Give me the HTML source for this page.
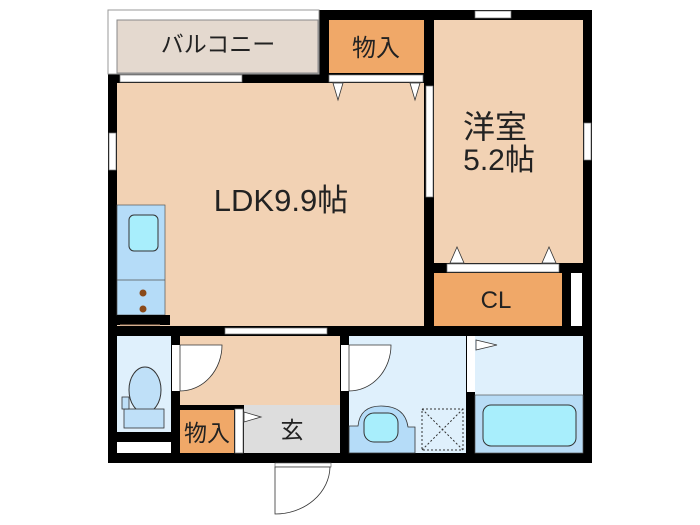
<!DOCTYPE html>
<html><head><meta charset="utf-8"><style>
html,body{margin:0;padding:0;background:#fff;width:700px;height:525px;overflow:hidden}
text{font-family:"Liberation Sans","Noto Sans CJK JP",sans-serif;fill:#222}
</style></head><body>
<svg width="700" height="525" viewBox="0 0 700 525" xmlns="http://www.w3.org/2000/svg">
<rect x="108" y="10" width="484" height="453" fill="#000"/>
<rect x="108" y="10" width="211" height="64" fill="#fff" stroke="#999" stroke-width="1"/>
<rect x="117" y="20" width="201" height="53" fill="#e4d9cf" stroke="#888" stroke-width="1"/>
<rect x="329" y="20" width="95" height="53" fill="#f0a868"/>
<rect x="329" y="75" width="94" height="7" fill="#fff" stroke="#777" stroke-width="0.7"/>
<rect x="120" y="75" width="122" height="7" fill="#fff" stroke="#777" stroke-width="0.7"/>
<rect x="117" y="83" width="307" height="243" fill="#f2d2b4"/>
<rect x="117" y="205" width="48" height="110" fill="#b5dcf8" stroke="#555" stroke-width="0.7"/>
<line x1="117" y1="280" x2="165" y2="280" stroke="#555" stroke-width="0.7"/>
<rect x="129" y="215" width="29" height="36" rx="5" fill="#a8eefc" stroke="#333" stroke-width="1"/>
<circle cx="143" cy="293" r="3.5" fill="#8a4a1a"/><circle cx="143" cy="309" r="3.5" fill="#8a4a1a"/>
<rect x="117" y="315" width="53" height="10" fill="#000"/>
<line x1="120" y1="325" x2="160" y2="325" stroke="#b58a6a"/>
<rect x="109" y="133" width="7" height="37" fill="#fff" stroke="#777" stroke-width="0.7"/>
<rect x="434" y="20" width="149" height="243" fill="#f2d2b4"/>
<rect x="475" y="11" width="36" height="7" fill="#fff" stroke="#777" stroke-width="0.7"/>
<rect x="584" y="123" width="7" height="37" fill="#fff" stroke="#777" stroke-width="0.7"/>
<rect x="426" y="86" width="7" height="111" fill="#fff" stroke="#777" stroke-width="0.7"/>
<rect x="447" y="264" width="112" height="8" fill="#fff" stroke="#777" stroke-width="0.7"/>
<polygon points="333,83 343,83 338,100" fill="#fff" stroke="#333" stroke-width="0.8"/>
<polygon points="410,83 420,83 415,100" fill="#fff" stroke="#333" stroke-width="0.8"/>
<polygon points="450,263 464,263 457,247" fill="#fff" stroke="#333" stroke-width="0.8"/>
<polygon points="542,263 556,263 549,247" fill="#fff" stroke="#333" stroke-width="0.8"/>
<rect x="434" y="273" width="128" height="53" fill="#f0a868"/>
<rect x="571" y="273" width="11" height="53" fill="#fff"/>
<rect x="225" y="328" width="102" height="6" fill="#fff" stroke="#777" stroke-width="0.7"/>
<rect x="117" y="336" width="54" height="96" fill="#dff0fc"/>
<ellipse cx="145" cy="390" rx="16" ry="23" fill="#bfe0f8" stroke="#333"/>
<rect x="124" y="409" width="40" height="19" fill="#bfe0f8" stroke="#333" stroke-width="0.8"/>
<rect x="122" y="397" width="7" height="12" fill="#bfe0f8" stroke="#333" stroke-width="0.8"/>
<rect x="117" y="442" width="54" height="11" fill="#fff"/>
<rect x="180" y="336" width="160" height="69" fill="#f2d2b4"/>
<rect x="180" y="410" width="54" height="43" fill="#f0a868"/>
<rect x="244" y="405" width="96" height="48" fill="#ddd"/>
<rect x="235" y="409" width="8" height="44" fill="#fff" stroke="#777" stroke-width="0.7"/>
<polygon points="244,412 244,422 261,417" fill="#fff" stroke="#333" stroke-width="0.8"/>
<rect x="172" y="345" width="8" height="46" fill="#fff"/>
<path d="M180 345 L222 345 A42 46 0 0 1 180 391 Z" fill="#fff" stroke="#333" stroke-width="0.8"/>
<rect x="349" y="336" width="117" height="117" fill="#dff0fc"/>
<rect x="341" y="345" width="8" height="46" fill="#fff"/>
<path d="M349 345 L391 345 A42 46 0 0 1 349 391 Z" fill="#fff" stroke="#333" stroke-width="0.8"/>
<path d="M349 426 L349 453 L415 453 L415 427 L408 427 Q405 406 381 406 Q360 406 358 426 Z" fill="#b5dcf8" stroke="#333" stroke-width="0.8"/>
<rect x="364" y="413" width="34" height="29" rx="10" fill="#a8eefc" stroke="#333"/>
<rect x="422" y="409" width="41" height="41" fill="none" stroke="#333" stroke-dasharray="2,2"/>
<line x1="422" y1="409" x2="463" y2="450" stroke="#333" stroke-dasharray="2,2"/>
<line x1="463" y1="409" x2="422" y2="450" stroke="#333" stroke-dasharray="2,2"/>
<rect x="475" y="336" width="108" height="117" fill="#dff0fc"/>
<rect x="475" y="395" width="108" height="58" fill="#b8dcf6" stroke="#555" stroke-width="0.7"/>
<rect x="483" y="405" width="93" height="41" rx="8" fill="#a8eefc" stroke="#333"/>
<rect x="467" y="336" width="8" height="56" fill="#fff"/>
<polygon points="476,340 476,350 497,345" fill="#fff" stroke="#333" stroke-width="0.8"/>
<rect x="275" y="463" width="56" height="4" fill="#fff" stroke="#555" stroke-width="0.6"/>
<path d="M275 467 L330 467 A55 48 0 0 1 275 514 Z" fill="#fff" stroke="#333" stroke-width="0.8"/>
<text x="218" y="52" font-size="23" text-anchor="middle">バルコニー</text>
<text x="376" y="56" font-size="24" text-anchor="middle">物入</text>
<text x="495" y="138" font-size="32" text-anchor="middle">洋室</text>
<text x="499" y="170" font-size="30" text-anchor="middle">5.2帖</text>
<text x="281" y="211" font-size="31" text-anchor="middle">LDK9.9帖</text>
<text x="496" y="308" font-size="24" text-anchor="middle">CL</text>
<text x="207" y="441" font-size="23" text-anchor="middle">物入</text>
<text x="292" y="438" font-size="23" text-anchor="middle">玄</text>
</svg>
</body></html>
